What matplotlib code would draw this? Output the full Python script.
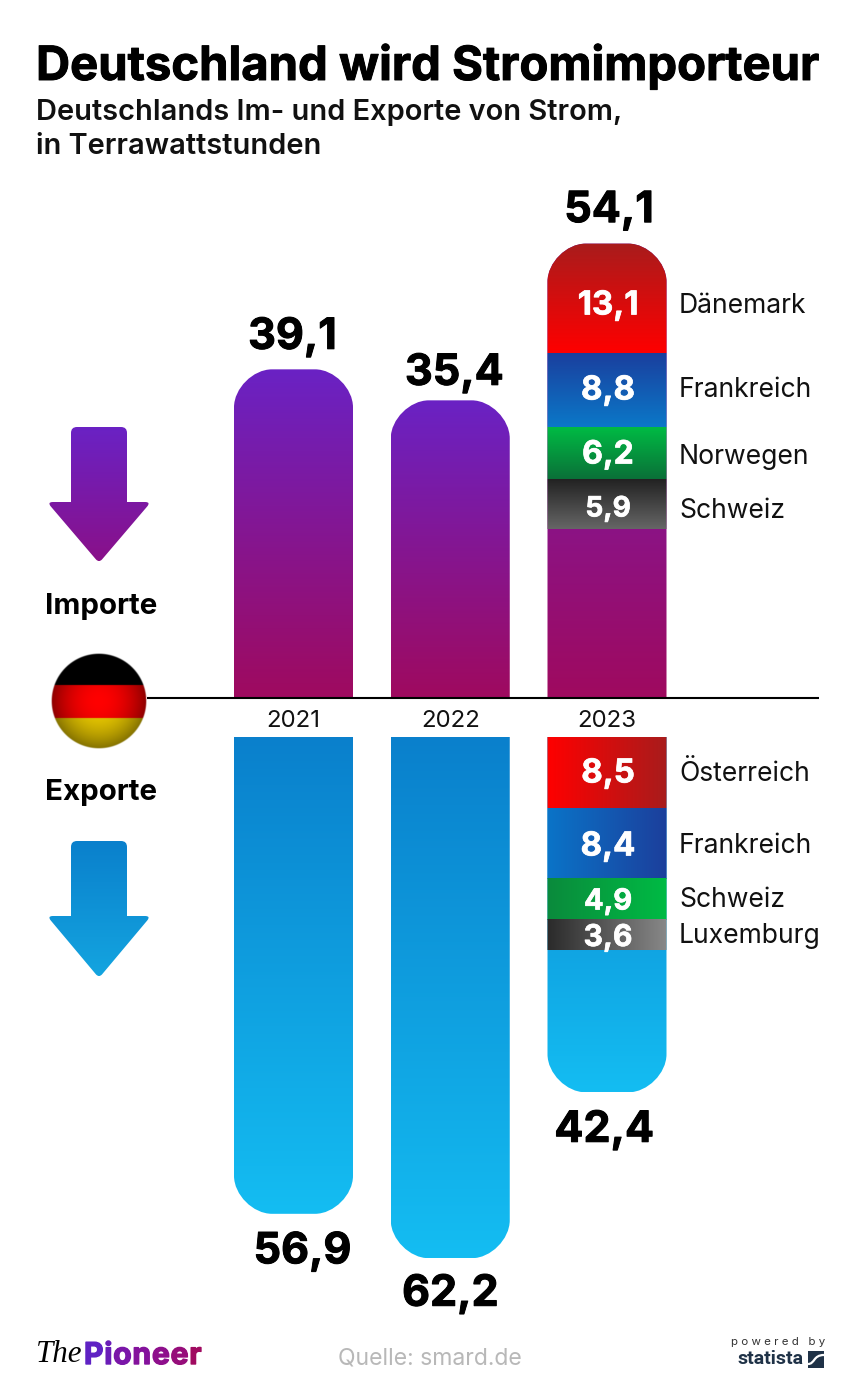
import numpy as np
import matplotlib
matplotlib.use("Agg")
from matplotlib import pyplot as plt
from matplotlib import patheffects as pe
from matplotlib.colors import to_rgb
from matplotlib.patches import PathPatch, Rectangle
from matplotlib.path import Path

plt.rcParams['font.family'] = ['Inter', 'DejaVu Sans']

# data
years = ['2021', '2022', '2023']
imports = [39.1, 35.4, 54.1]
exports = [56.9, 62.2, 42.4]
import_countries = ['Dänemark', 'Frankreich', 'Norwegen', 'Schweiz']
import_parts = [13.1, 8.8, 6.2, 5.9]
export_countries = ['Österreich', 'Frankreich', 'Schweiz', 'Luxemburg']
export_parts = [8.5, 8.4, 4.9, 3.6]

# colours of the segments (first, last)
import_colors = [('#a81c1c', '#ff0000'), ('#1a3f9e', '#0b78c8'), ('#00bb44', '#0a7038'), ('#222222', '#666666')]
export_colors = [('#ff0000', '#a81c1c'), ('#0a74c8', '#1c3f9c'), ('#0a8a3c', '#00bb44'), ('#2a2a2a', '#888888')]
purple = ('#6a22c4', '#9f0a5f')
blue = ('#0a80cc', '#14bdf2')

W, H = 860, 1389
PX_PER_TWH = 8.38
BASE = 697
EXPORT_TOP = 737
X0 = 293.5
STEP = 156.75
BAR_W = 119 / STEP

fig = plt.figure(figsize=(W / 100, H / 100), dpi=100)
xlim = (-X0 / STEP, (W - X0) / STEP)

ax_imp = fig.add_axes([0, 1 - BASE / H, 1, BASE / H])
ax_imp.set_xlim(*xlim)
ax_imp.set_ylim(0, BASE / PX_PER_TWH)
ax_imp.axis('off')

ax_exp = fig.add_axes([0, 0, 1, 1 - EXPORT_TOP / H])
ax_exp.set_xlim(*xlim)
ax_exp.set_ylim((H - EXPORT_TOP) / PX_PER_TWH, 0)
ax_exp.axis('off')

# pixel axes for everything that is not scaled
ax = fig.add_axes([0, 0, 1, 1], zorder=5)
ax.set_xlim(0, W)
ax.set_ylim(H, 0)
ax.axis('off')

heavy = [pe.withStroke(linewidth=0.7, foreground='black')]
heavy_w = [pe.withStroke(linewidth=0.5, foreground='white')]


def paint(a, x0, x1, ya, yb, colors, horizontal=False, clip=None):
    # ya is the end of the ramp that starts with colors[0]
    ramp = np.linspace(0, 1, 256)
    c0, c1 = np.array(to_rgb(colors[0])), np.array(to_rgb(colors[1]))
    rgb = c0[None, :] * (1 - ramp[:, None]) + c1[None, :] * ramp[:, None]
    rgb = rgb[None, :, :] if horizontal else rgb[:, None, :]
    lim = a.get_xlim(), a.get_ylim()
    im = a.imshow(rgb, extent=(x0, x1, yb, ya), aspect='auto', origin='upper', interpolation='bilinear')
    a.set_xlim(lim[0])
    a.set_ylim(lim[1])
    if clip is not None:
        im.set_clip_path(clip)
    return im


def round_end(a, x, value, r_px=38):
    # bar shape from 0 to value, the far end rounded
    x0, x1 = x - BAR_W / 2, x + BAR_W / 2
    rx, ry = r_px / STEP, r_px / PX_PER_TWH
    k = 0.5
    verts = [(x0, 0), (x0, value - ry),
             (x0, value - ry * k), (x0 + rx * k, value), (x0 + rx, value),
             (x1 - rx, value),
             (x1 - rx * k, value), (x1, value - ry * k), (x1, value - ry),
             (x1, 0), (x0, 0)]
    codes = [Path.MOVETO, Path.LINETO, Path.CURVE4, Path.CURVE4, Path.CURVE4, Path.LINETO,
             Path.CURVE4, Path.CURVE4, Path.CURVE4, Path.LINETO, Path.CLOSEPOLY]
    patch = PathPatch(Path(verts, codes), facecolor='none', edgecolor='none', transform=a.transData)
    a.add_patch(patch)
    return patch


def px_text(x, y, s, size, **kw):
    kw.setdefault('ha', 'center')
    kw.setdefault('va', 'center')
    return ax.text(x, y, s, fontsize=size * 0.72, **kw)


# bars
for i, v in enumerate(imports):
    clip = round_end(ax_imp, i, v)
    paint(ax_imp, i - BAR_W / 2, i + BAR_W / 2, v, 0, purple, clip=clip)
    if years[i] == '2023':
        top = v
        for part, c in zip(import_parts, import_colors):
            paint(ax_imp, i - BAR_W / 2, i + BAR_W / 2, top, top - part, c, clip=clip)
            top -= part

for i, v in enumerate(exports):
    clip = round_end(ax_exp, i, v)
    paint(ax_exp, i - BAR_W / 2, i + BAR_W / 2, 0, v, blue, clip=clip)
    if years[i] == '2023':
        top = 0
        for part, c in zip(export_parts, export_colors):
            paint(ax_exp, i - BAR_W / 2, i + BAR_W / 2, top, top + part, c, horizontal=True, clip=clip)
            top += part

# value labels on the bar ends
imp_dx = [-1, 4, 2]
exp_dx = [9, 0, -3]
imp_dy = [32, 27, 33]
exp_dy = [38, 36, 38]
for i, v in enumerate(imports):
    ax_imp.annotate(f'{v:.1f}'.replace('.', ','), (i, v), xytext=(imp_dx[i] * 0.72, imp_dy[i] * 0.72),
                    textcoords='offset points', ha='center', va='center', fontsize=31, fontweight='bold',
                    color='black', zorder=6, path_effects=heavy)
for i, v in enumerate(exports):
    ax_exp.annotate(f'{v:.1f}'.replace('.', ','), (i, v), xytext=(exp_dx[i] * 0.72, -exp_dy[i] * 0.72),
                    textcoords='offset points', ha='center', va='center', fontsize=31, fontweight='bold',
                    color='black', zorder=6, path_effects=heavy)

# segment labels
imp_sizes = [33, 33, 32, 28]
imp_y = [306, 391, 455, 509]
imp_label_y = [306, 390, 457, 511]
for name, part, size, y, ly in zip(import_countries, import_parts, imp_sizes, imp_y, imp_label_y):
    px_text(608, y, f'{part:.1f}'.replace('.', ','), size, color='white', fontweight='bold', path_effects=heavy_w)
    px_text(679, ly, name, 26.5, ha='left', color='#111111')
exp_sizes = [33, 33, 29, 30]
exp_y = [774, 847, 902, 938]
exp_label_y = [774, 846, 900, 936]
for name, part, size, y, ly in zip(export_countries, export_parts, exp_sizes, exp_y, exp_label_y):
    px_text(608, y, f'{part:.1f}'.replace('.', ','), size, color='white', fontweight='bold', path_effects=heavy_w)
    px_text(679, ly, name, 26.5, ha='left', color='#111111')

for i, y in enumerate(years):
    px_text(X0 + STEP * i, 721, y, 24, color='#111111')

# base line
ax.plot([147, 819], [BASE + 0.5, BASE + 0.5], color='black', lw=1.5, solid_capstyle='butt', zorder=1)


# arrows
def arrow(top, neck, tip, colors):
    corners = [(71, top), (127, top), (127, neck), (151, neck), (99, tip + 2), (47, neck), (71, neck)]
    r = [6, 6, 0, 6, 5, 6, 0]
    verts, codes = [], []
    for j, (p, rad) in enumerate(zip(corners, r)):
        p = np.array(p, float)
        prev = np.array(corners[j - 1], float)
        nxt = np.array(corners[(j + 1) % len(corners)], float)
        a = p + (prev - p) / np.linalg.norm(prev - p) * rad
        b = p + (nxt - p) / np.linalg.norm(nxt - p) * rad
        verts += [a, p, b]
        codes += [Path.LINETO, Path.CURVE3, Path.CURVE3]
    codes[0] = Path.MOVETO
    verts.append(verts[0])
    codes.append(Path.CLOSEPOLY)
    patch = PathPatch(Path(verts, codes), facecolor='none', edgecolor='none')
    ax.add_patch(patch)
    paint(ax, 47, 151, top, tip + 2, colors, clip=patch)


arrow(427, 502, 561, ('#6a22c4', '#8a1088'))
arrow(841, 916, 976, ('#0a80cc', '#14a5e0'))
px_text(101, 606, 'Importe', 29.5, fontweight='bold', color='black')
px_text(101, 792, 'Exporte', 29.5, fontweight='bold', color='black')

# flag
n = 192
yy, xx = np.mgrid[-1:1:n * 1j, -1:1:n * 1j]
rr = np.sqrt(xx ** 2 + yy ** 2)
flag = np.zeros((n, n, 4))
py = (yy + 1) * 48
flag[..., :3] = np.where((py < 32)[..., None], np.array([0, 0, 0]),
                         np.where((py < 65)[..., None], np.array([1, 0, 0]), np.array([0.93, 0.8, 0])))
flag[..., :3] *= (1 - 0.45 * np.clip(rr, 0, 1) ** 2)[..., None]
flag[..., 3] = np.clip((1 - rr) * 48, 0, 1)
lim = ax.get_xlim(), ax.get_ylim()
ax.imshow(flag, extent=(51, 147, 749, 653), aspect='auto', interpolation='bilinear', zorder=3)
ax.set_xlim(lim[0])
ax.set_ylim(lim[1])

# header
px_text(36, 67, 'Deutschland wird Stromimporteur', 47.2, ha='left', fontweight='bold', color='black', path_effects=heavy)
px_text(36, 113, 'Deutschlands Im- und Exporte von Strom,', 29, ha='left', fontweight='semibold', color='#111111')
px_text(36, 147, 'in Terrawattstunden', 29, ha='left', fontweight='semibold', color='#111111')

# footer
px_text(430, 1358, 'Quelle: smard.de', 23, color='#b8b8b8')
px_text(36, 1355, 'The', 31, ha='left', family='Liberation Serif', style='italic', color='black')

fig.canvas.draw()
rend = fig.canvas.get_renderer()
logo_colors = ['#5f22c4', '#6a1cb8', '#7a16a8', '#84129c', '#8e0f8c', '#960d7a', '#a00a60']
lx = 84
inv = ax.transData.inverted()
for ch, c in zip('Pioneer', logo_colors):
    t = px_text(lx, 1356, ch, 30, ha='left', fontweight='bold', color=c,
                path_effects=[pe.withStroke(linewidth=1.0, foreground=c)])
    bb = t.get_window_extent(rend)
    lx = inv.transform((bb.x1, bb.y0))[0] + 0.8

px_text(778, 1342, 'p o w e r e d   b y', 11.5, color='#333333')
px_text(771, 1359, 'statista', 19.5, family='Roboto', fontweight='bold', color='#1f3247')
ax.add_patch(Rectangle((808, 1351), 16, 17, facecolor='#1f3247', edgecolor='none'))
ax.add_patch(PathPatch(Path([(808, 1364), (815, 1364), (813, 1355), (824, 1355)],
                            [Path.MOVETO, Path.CURVE4, Path.CURVE4, Path.CURVE4]),
                       facecolor='none', edgecolor='white', lw=1.6))

plt.savefig('out.png', dpi=100)
